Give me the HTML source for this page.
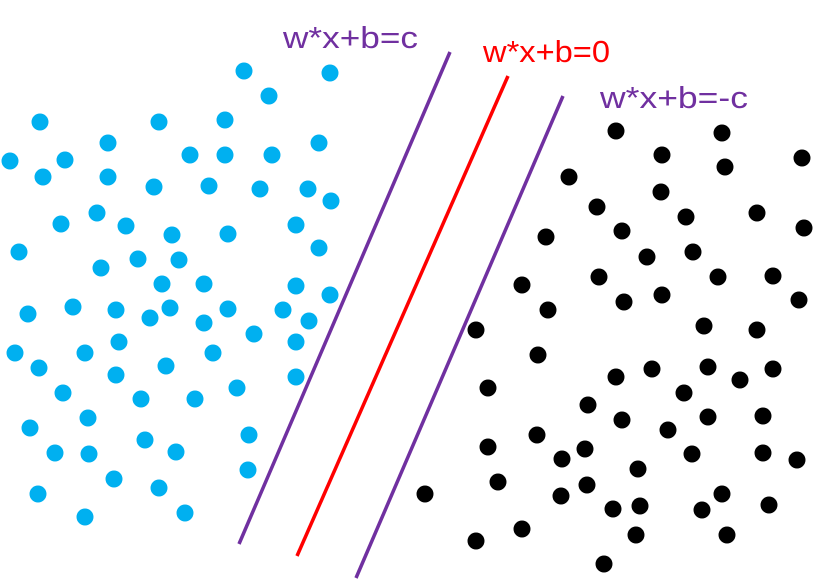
<!DOCTYPE html>
<html><head><meta charset="utf-8"><style>html,body{margin:0;padding:0;background:#fff}svg{display:block}</style></head>
<body>
<svg width="814" height="581" viewBox="0 0 814 581" xmlns="http://www.w3.org/2000/svg">
<rect width="814" height="581" fill="#fff"/>
<line x1="450" y1="52" x2="239" y2="544" stroke="#7030A0" stroke-width="3.5"/>
<line x1="508" y1="76" x2="297" y2="556" stroke="#FF0000" stroke-width="3.5"/>
<line x1="563" y1="96" x2="356" y2="578" stroke="#7030A0" stroke-width="3.5"/>
<g font-family="Liberation Sans, sans-serif" font-size="31">
<text x="283" y="48" fill="#7030A0" textLength="135" lengthAdjust="spacingAndGlyphs">w*x+b=c</text>
<text x="483" y="62" fill="#FF0000" textLength="127" lengthAdjust="spacingAndGlyphs">w*x+b=0</text>
<text x="600" y="108" fill="#7030A0" textLength="148" lengthAdjust="spacingAndGlyphs">w*x+b=-c</text>
</g>
<g fill="#00B0F0">
<circle cx="244" cy="71" r="8.5"/><circle cx="330" cy="73" r="8.5"/><circle cx="269" cy="96" r="8.5"/><circle cx="40" cy="122" r="8.5"/><circle cx="159" cy="122" r="8.5"/><circle cx="225" cy="120" r="8.5"/><circle cx="108" cy="143" r="8.5"/><circle cx="10" cy="161" r="8.5"/><circle cx="65" cy="160" r="8.5"/><circle cx="190" cy="155" r="8.5"/><circle cx="225" cy="155" r="8.5"/><circle cx="272" cy="155" r="8.5"/><circle cx="319" cy="143" r="8.5"/><circle cx="43" cy="177" r="8.5"/><circle cx="108" cy="177" r="8.5"/><circle cx="154" cy="187" r="8.5"/><circle cx="209" cy="186" r="8.5"/><circle cx="260" cy="189" r="8.5"/><circle cx="308" cy="189" r="8.5"/><circle cx="331" cy="201" r="8.5"/><circle cx="97" cy="213" r="8.5"/><circle cx="61" cy="224" r="8.5"/><circle cx="126" cy="226" r="8.5"/><circle cx="172" cy="235" r="8.5"/><circle cx="228" cy="234" r="8.5"/><circle cx="296" cy="225" r="8.5"/><circle cx="19" cy="252" r="8.5"/><circle cx="138" cy="259" r="8.5"/><circle cx="179" cy="260" r="8.5"/><circle cx="319" cy="248" r="8.5"/><circle cx="101" cy="268" r="8.5"/><circle cx="162" cy="284" r="8.5"/><circle cx="204" cy="284" r="8.5"/><circle cx="296" cy="286" r="8.5"/><circle cx="330" cy="295" r="8.5"/><circle cx="73" cy="307" r="8.5"/><circle cx="28" cy="314" r="8.5"/><circle cx="116" cy="310" r="8.5"/><circle cx="150" cy="318" r="8.5"/><circle cx="170" cy="308" r="8.5"/><circle cx="228" cy="309" r="8.5"/><circle cx="283" cy="310" r="8.5"/><circle cx="309" cy="321" r="8.5"/><circle cx="204" cy="323" r="8.5"/><circle cx="254" cy="334" r="8.5"/><circle cx="119" cy="342" r="8.5"/><circle cx="15" cy="353" r="8.5"/><circle cx="85" cy="353" r="8.5"/><circle cx="213" cy="353" r="8.5"/><circle cx="296" cy="342" r="8.5"/><circle cx="39" cy="368" r="8.5"/><circle cx="166" cy="366" r="8.5"/><circle cx="116" cy="375" r="8.5"/><circle cx="296" cy="377" r="8.5"/><circle cx="63" cy="393" r="8.5"/><circle cx="237" cy="388" r="8.5"/><circle cx="141" cy="399" r="8.5"/><circle cx="195" cy="399" r="8.5"/><circle cx="88" cy="418" r="8.5"/><circle cx="30" cy="428" r="8.5"/><circle cx="145" cy="440" r="8.5"/><circle cx="249" cy="435" r="8.5"/><circle cx="55" cy="453" r="8.5"/><circle cx="89" cy="454" r="8.5"/><circle cx="176" cy="452" r="8.5"/><circle cx="248" cy="470" r="8.5"/><circle cx="114" cy="479" r="8.5"/><circle cx="38" cy="494" r="8.5"/><circle cx="159" cy="488" r="8.5"/><circle cx="85" cy="517" r="8.5"/><circle cx="185" cy="513" r="8.5"/>
</g>
<g fill="#000">
<circle cx="616" cy="131" r="8.5"/><circle cx="722" cy="133" r="8.5"/><circle cx="662" cy="155" r="8.5"/><circle cx="725" cy="167" r="8.5"/><circle cx="802" cy="158" r="8.5"/><circle cx="569" cy="177" r="8.5"/><circle cx="661" cy="192" r="8.5"/><circle cx="597" cy="207" r="8.5"/><circle cx="757" cy="213" r="8.5"/><circle cx="686" cy="217" r="8.5"/><circle cx="804" cy="228" r="8.5"/><circle cx="622" cy="231" r="8.5"/><circle cx="546" cy="237" r="8.5"/><circle cx="693" cy="252" r="8.5"/><circle cx="647" cy="257" r="8.5"/><circle cx="599" cy="277" r="8.5"/><circle cx="718" cy="277" r="8.5"/><circle cx="773" cy="276" r="8.5"/><circle cx="522" cy="285" r="8.5"/><circle cx="662" cy="295" r="8.5"/><circle cx="624" cy="302" r="8.5"/><circle cx="799" cy="300" r="8.5"/><circle cx="548" cy="310" r="8.5"/><circle cx="476" cy="330" r="8.5"/><circle cx="704" cy="326" r="8.5"/><circle cx="757" cy="330" r="8.5"/><circle cx="538" cy="355" r="8.5"/><circle cx="708" cy="367" r="8.5"/><circle cx="773" cy="369" r="8.5"/><circle cx="616" cy="377" r="8.5"/><circle cx="652" cy="369" r="8.5"/><circle cx="488" cy="388" r="8.5"/><circle cx="684" cy="393" r="8.5"/><circle cx="740" cy="380" r="8.5"/><circle cx="588" cy="405" r="8.5"/><circle cx="622" cy="420" r="8.5"/><circle cx="708" cy="417" r="8.5"/><circle cx="763" cy="416" r="8.5"/><circle cx="668" cy="430" r="8.5"/><circle cx="537" cy="435" r="8.5"/><circle cx="488" cy="447" r="8.5"/><circle cx="763" cy="453" r="8.5"/><circle cx="692" cy="454" r="8.5"/><circle cx="585" cy="449" r="8.5"/><circle cx="562" cy="459" r="8.5"/><circle cx="797" cy="460" r="8.5"/><circle cx="638" cy="469" r="8.5"/><circle cx="498" cy="482" r="8.5"/><circle cx="425" cy="494" r="8.5"/><circle cx="587" cy="485" r="8.5"/><circle cx="722" cy="494" r="8.5"/><circle cx="561" cy="496" r="8.5"/><circle cx="613" cy="509" r="8.5"/><circle cx="640" cy="506" r="8.5"/><circle cx="702" cy="510" r="8.5"/><circle cx="769" cy="505" r="8.5"/><circle cx="522" cy="529" r="8.5"/><circle cx="476" cy="541" r="8.5"/><circle cx="636" cy="535" r="8.5"/><circle cx="727" cy="535" r="8.5"/><circle cx="604" cy="564" r="8.5"/>
</g>
</svg>
</body></html>
